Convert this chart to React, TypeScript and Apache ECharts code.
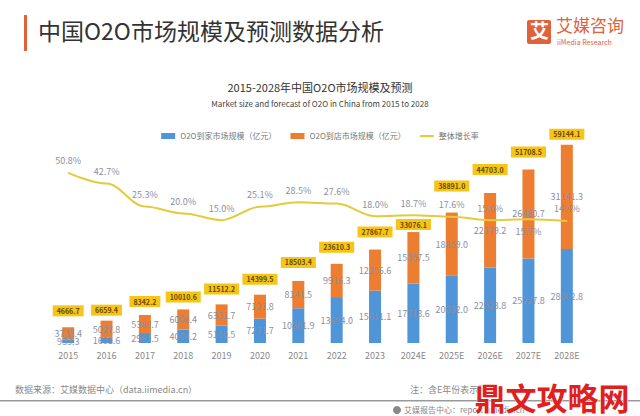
import React, { useEffect, useRef } from "react";
import * as echarts from "echarts";

const years = ["2015", "2016", "2017", "2018", "2019", "2020", "2021", "2022", "2023", "2024E", "2025E", "2026E", "2027E", "2028E"];
const homeValues = [933.3, 1631.6, 2961.5, 4004.2, 5180.5, 7271.7, 10361.9, 13694.0, 15611.1, 17718.6, 20032.0, 22523.8, 25227.8, 28002.8];
const storeValues = [3733.4, 5027.8, 5380.7, 6006.4, 6331.7, 7127.8, 8141.5, 9916.3, 12256.6, 15357.5, 18859.0, 22179.2, 26480.7, 31141.3];
const totalValues = [4666.7, 6659.4, 8342.2, 10010.6, 11512.2, 14399.5, 18503.4, 23610.3, 27867.7, 33076.1, 38891.0, 44703.0, 51708.5, 59144.1];
const growthRates = [50.8, 42.7, 25.3, 20.0, 15.0, 25.1, 28.5, 27.6, 18.0, 18.7, 17.6, 15.0, 15.7, 14.4];

// label layout (not data)
const growthLabelPos = ["top", "top", "top", "top", "top", "top", "top", "top", "top", "top", "top", "top", "bottom", "top"];
const totalLabelGap = [11, 5, 8, 7, 10, 10, 13, 11, 12, 2, 21, 18, 12, 5];

const seriesNames = ["O2O到家市场规模（亿元）", "O2O到店市场规模（亿元）", "整体增长率"];

const FONT = "'Noto Sans CJK SC', 'Noto Sans', sans-serif";

export default function App() {
  const ref = useRef<HTMLDivElement>(null);
  useEffect(() => {
    if (!ref.current) return;
    const chart = echarts.init(ref.current, undefined, { renderer: "svg" });
    chart.setOption({
      animation: false,
      backgroundColor: "#ffffff",
      textStyle: { fontFamily: FONT },
      graphic: [
        { type: "rect", left: 24, top: 15, shape: { width: 3, height: 36 }, style: { fill: "#e0623a" } },
        { type: "text", left: 38, top: 18, style: { text: "中国O2O市场规模及预测数据分析", fontSize: 23, fill: "#333333", fontFamily: FONT } },
        { type: "rect", left: 527, top: 20, shape: { width: 24, height: 24, r: 2 }, style: { fill: "#e0623a" } },
        { type: "text", left: 530, top: 20, style: { text: "艾", fontSize: 19, fontWeight: "bold", fill: "#ffffff", fontFamily: FONT } },
        { type: "text", left: 556, top: 16, style: { text: "艾媒咨询", fontSize: 17, fill: "#e0623a", fontFamily: FONT } },
        { type: "text", left: 557, top: 38, style: { text: "iiMedia Research", fontSize: 7, fill: "#e0623a", fontFamily: FONT } },
        { type: "text", left: "center", top: 81, style: { text: "2015-2028年中国O2O市场规模及预测", fontSize: 11, fill: "#333333", fontFamily: FONT } },
        { type: "text", left: "center", top: 99, style: { text: "Market size and forecast of O2O in China from 2015 to 2028", fontSize: 8, fill: "#444444", fontFamily: FONT } },
        { type: "text", left: 15, top: 385, style: { text: "数据来源：艾媒数据中心（data.iimedia.cn）", fontSize: 9, fill: "#888888", fontFamily: FONT } },
        { type: "text", left: 410, top: 385, style: { text: "注：含E年份表示预测", fontSize: 9, fill: "#888888", fontFamily: FONT } },
        { type: "rect", left: 0, top: 400, shape: { width: 640, height: 1.5 }, style: { fill: "#999999" } },
        { type: "circle", left: 393, top: 406, shape: { r: 4 }, style: { fill: "#888888" } },
        { type: "text", left: 404, top: 405, style: { text: "艾媒报告中心：report.iimedia.cn", fontSize: 8, fill: "#888888", fontFamily: FONT } },
        { type: "text", left: 474, top: 380, style: { text: "鼎文攻略网", fontSize: 31, fontWeight: "bold", fill: "#e0201c", stroke: "#ffffff", lineWidth: 1, fontFamily: FONT } },
      ],
      legend: {
        top: 127,
        left: "center",
        itemWidth: 14,
        itemHeight: 6,
        itemGap: 14,
        textStyle: { fontSize: 8, color: "#777777", fontFamily: FONT },
        data: [
          { name: seriesNames[0], icon: "rect" },
          { name: seriesNames[1], icon: "rect" },
          { name: seriesNames[2], icon: "path://M0,0 L14,0 L14,2 L0,2 Z" },
        ],
      },
      grid: { left: 49, right: 54, top: 125, bottom: 73 },
      xAxis: {
        type: "category",
        data: years,
        axisLine: { show: false },
        axisTick: { show: false },
        axisLabel: { color: "#888888", fontSize: 9, margin: 8, fontFamily: FONT },
      },
      yAxis: [
        { type: "value", min: 0, max: 65000, show: false },
        { type: "value", min: -78, max: 87, show: false },
      ],
      series: [
        {
          name: seriesNames[0],
          type: "bar",
          stack: "total",
          barWidth: 12,
          barGap: "-100%",
          data: homeValues,
          itemStyle: { color: "#4f95d8" },
          label: { show: true, position: "inside", color: "#8a8fa3", fontSize: 9, formatter: (p: any) => p.value.toFixed(1) },
        },
        {
          name: seriesNames[1],
          type: "bar",
          stack: "total",
          barWidth: 12,
          barGap: "-100%",
          data: storeValues,
          itemStyle: { color: "#ed7d31" },
          label: { show: true, position: "inside", color: "#8a8fa3", fontSize: 9, formatter: (p: any) => p.value.toFixed(1) },
        },
        {
          name: "合计",
          type: "bar",
          barWidth: 12,
          barGap: "-100%",
          data: totalValues.map((v, i) => ({ value: v, label: { distance: totalLabelGap[i] } })),
          itemStyle: { color: "rgba(0,0,0,0)" },
          z: 1,
          label: {
            show: true,
            position: "top",
            backgroundColor: "#f5c518",
            color: "#6b4a00",
            fontSize: 7,
            fontWeight: "bold",
            padding: [2, 4],
            formatter: (p: any) => p.value.toFixed(1),
          },
        },
        {
          name: seriesNames[2],
          type: "line",
          yAxisIndex: 1,
          smooth: 0.35,
          smoothMonotone: "x",
          symbol: "circle",
          symbolSize: 1,
          data: growthRates.map((v, i) => ({ value: v, label: { position: growthLabelPos[i] } })),
          itemStyle: { color: "#e3cb3a" },
          lineStyle: { color: "#e3cb3a", width: 2 },
          label: { show: true, distance: 7, color: "#8a8fa3", fontSize: 9, formatter: (p: any) => `${p.value.toFixed(1)}%` },
          z: 5,
        },
      ],
    });
    return () => chart.dispose();
  }, []);
  return <div ref={ref} style={{ width: 640, height: 416, position: "absolute", left: 0, top: 0 }} />;
}
